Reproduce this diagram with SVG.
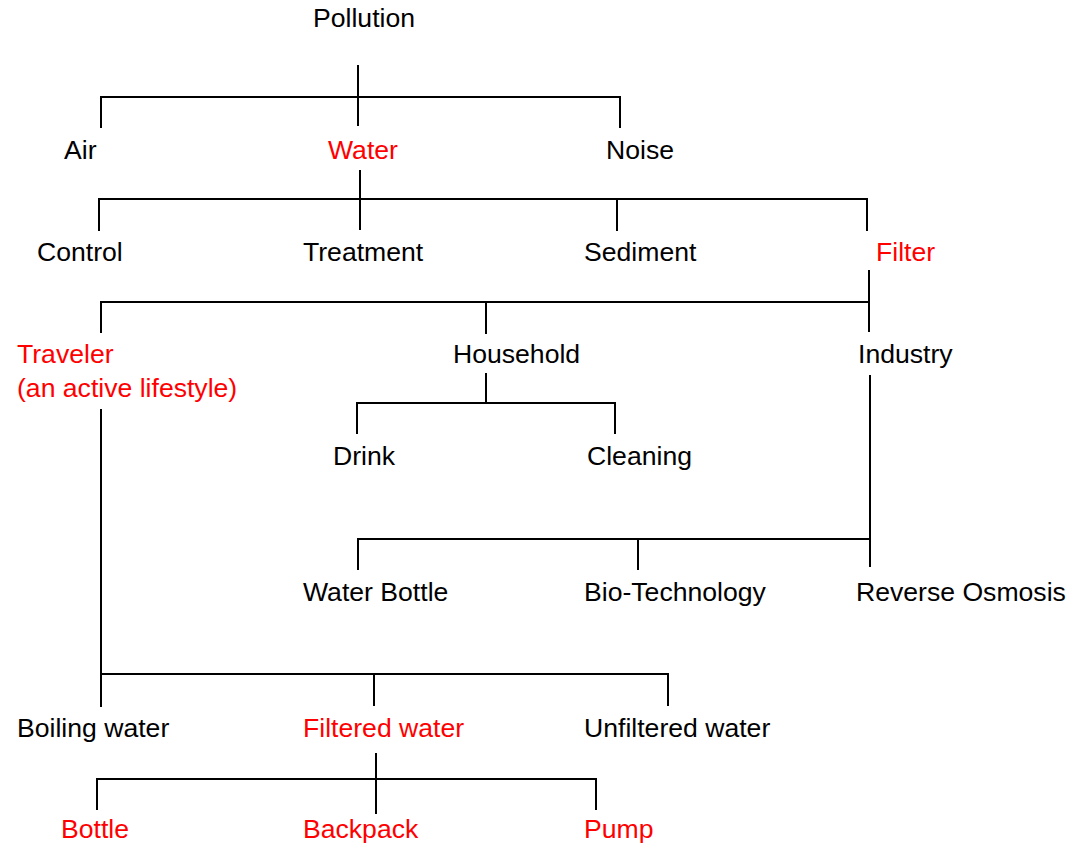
<svg xmlns="http://www.w3.org/2000/svg" width="1068" height="846" viewBox="0 0 1068 846">
<style>
text{font-family:"Liberation Sans",Arial,sans-serif;font-size:26.6px;fill:#000}
.r{fill:#ff0000}
#connectors path{stroke:#000;stroke-width:2;fill:none}
</style>
<rect width="1068" height="846" fill="#fff"/>
<g id="connectors">
<path d="M358,65V126M101,128V97H620V128"/>
<path d="M360,170V230M99,231V199H867V231M617,199V231"/>
<path d="M869,270V332M101,333V302H869M486,302V334"/>
<path d="M486,373V403M357,434V403H615V434"/>
<path d="M870,375V567M358,570V539H870M638,539V570"/>
<path d="M101,409V707M101,674H668V706M374,674V706"/>
<path d="M376,753V814M97,810V779H596V810"/>
</g>
<g id="pollution"><text x="313" y="27">Pollution</text></g>
<g id="air"><text x="64" y="159">Air</text></g>
<g id="water"><text class="r" x="328" y="159">Water</text></g>
<g id="noise"><text x="606" y="159">Noise</text></g>
<g id="control"><text x="37" y="261">Control</text></g>
<g id="treatment"><text x="303" y="261">Treatment</text></g>
<g id="sediment"><text x="584" y="261">Sediment</text></g>
<g id="filter"><text class="r" x="876" y="261">Filter</text></g>
<g id="traveler"><text class="r" x="17" y="363">Traveler</text><text class="r" x="17" y="397">(an active lifestyle)</text></g>
<g id="household"><text x="453" y="363">Household</text></g>
<g id="industry"><text x="858" y="363">Industry</text></g>
<g id="drink"><text x="333" y="465">Drink</text></g>
<g id="cleaning"><text x="587" y="465">Cleaning</text></g>
<g id="water-bottle"><text x="303" y="601">Water Bottle</text></g>
<g id="bio-technology"><text x="584" y="601">Bio-Technology</text></g>
<g id="reverse-osmosis"><text x="856" y="601">Reverse Osmosis</text></g>
<g id="boiling-water"><text x="17" y="737">Boiling water</text></g>
<g id="filtered-water"><text class="r" x="303" y="737">Filtered water</text></g>
<g id="unfiltered-water"><text x="584" y="737">Unfiltered water</text></g>
<g id="bottle"><text class="r" x="61" y="838">Bottle</text></g>
<g id="backpack"><text class="r" x="303" y="838">Backpack</text></g>
<g id="pump"><text class="r" x="584" y="838">Pump</text></g>
</svg>
